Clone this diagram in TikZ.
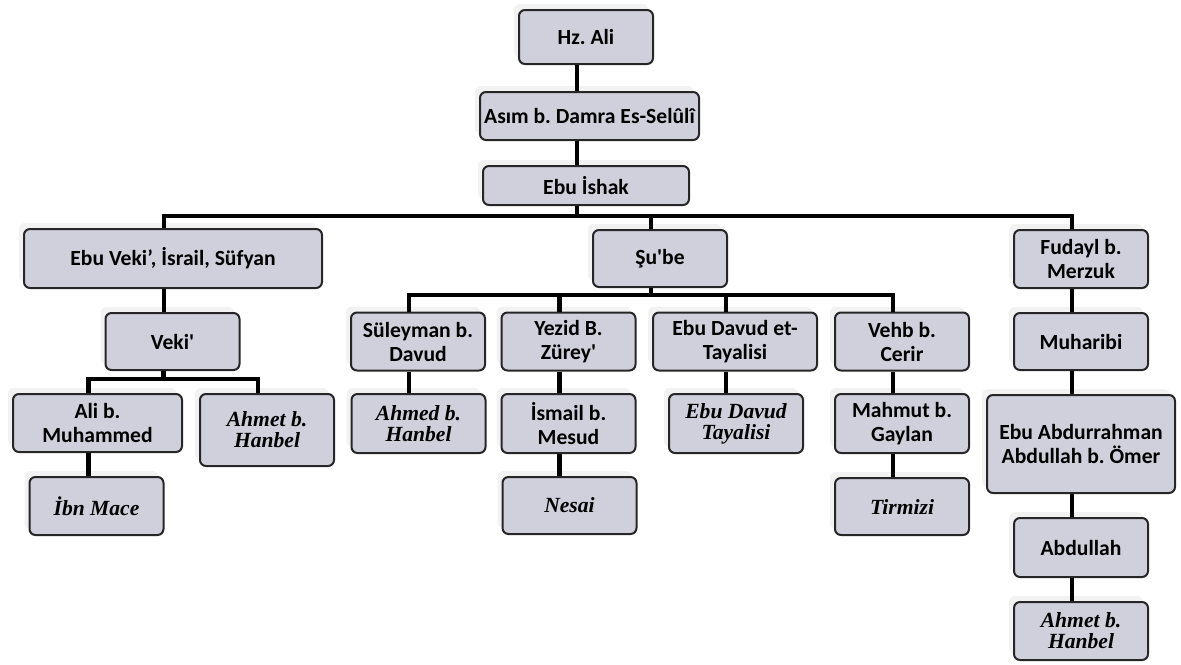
\documentclass[tikz,border=0pt]{standalone}
\usepackage{fontspec}
\setmainfont[Ligatures=TeXOff]{Carlito}
\newfontfamily\timesfont{Liberation Serif}
\usepackage{tikz}
\usetikzlibrary{shadows}
\usepackage{xcolor}
\definecolor{boxfill}{RGB}{208,207,220}
\frenchspacing
\newcommand\namefont{\fontsize{10.8}{12}\selectfont\bfseries}
\newcommand\leaffont{\fontsize{10.8}{10.5}\selectfont\timesfont\bfseries\itshape}
\tikzset{
    box/.style={draw=black!85, line width=1pt, rounded corners=3pt, fill=boxfill,
        align=center, inner sep=0pt, minimum width=67pt, minimum height=29pt,
        font=\namefont,
        copy shadow={shadow xshift=-2.5pt, shadow yshift=3pt, draw=none, fill=black!5}},
    leaf/.style={box, font=\leaffont},
    link/.style={line width=2.4pt, transform canvas={xshift=-4.5pt}}
}

\begin{document}
\begin{tikzpicture}[x=0.5pt, y=-0.5pt]
            \useasboundingbox (0,0) rectangle (1181,664);
            % top of the chain
            \node[box, minimum height=27pt] (hzali) at (586,37) {Hz. Ali};
            \node[box, minimum width=109.5pt, minimum height=24pt] (asim) at (589.5,116) {Asım b. Damra Es-Selûlî};
            \node[box, minimum width=103pt, minimum height=19.5pt] (ishak) at (586,185.5) {Ebu İshak};
            % second row
            \node[box, minimum width=149pt, minimum height=29.5pt] (ebuveki) at (173,258.5) {Ebu Veki’, İsrail, Süfyan};
            \node[box, minimum height=28.5pt] (sube) at (660,258.5) {Şu'be};
            \node[box] (fudayl) at (1081,259) {Fudayl b.\\Merzuk};
            % third row
            \node[box, minimum height=28.5pt] (veki) at (172.5,341.5) {Veki'};
            \node[box] (suleyman) at (418,341.5) {Süleyman b.\\Davud};
            \node[box] (yezid) at (568.5,341.5) {Yezid B.\\Zürey'};
            \node[box, minimum width=82pt] (ebudavud) at (735,341.5) {Ebu Davud et-\\Tayalisi};
            \node[box] (vehb) at (902,341.5) {Vehb b.\\Cerir};
            \node[box, minimum height=28.5pt] (muharibi) at (1081,341.5) {Muharibi};
            % fourth row
            \node[box, minimum width=84.5pt] (alimuh) at (97.5,423) {Ali b.\\Muhammed};
            \node[leaf, minimum height=36pt] (ahmet) at (267,430) {Ahmet b.\\Hanbel};
            \node[leaf, minimum height=29.5pt] (ahmed) at (418.5,423.5) {Ahmed b.\\Hanbel};
            \node[box, minimum height=29.5pt] (ismail) at (568.5,423.5) {İsmail b.\\Mesud};
            \node[leaf, minimum height=29.5pt] (tayalisi) at (736,423.5) {Ebu Davud\\Tayalisi};
            \node[box, minimum height=29.5pt] (mahmut) at (902,423.5) {Mahmut b.\\Gaylan};
            \node[box, minimum width=94pt, minimum height=49pt] (ebuabd) at (1081,444) {Ebu Abdurrahman\\Abdullah b. Ömer};
            % last rows
            \node[leaf] (ibnmace) at (96.5,506) {İbn Mace};
            \node[leaf, minimum height=28.5pt] (nesai) at (569.5,505.5) {Nesai};
            \node[leaf, minimum height=28.5pt] (tirmizi) at (902,506.5) {Tirmizi};
            \node[box, minimum height=29.5pt] (abdullah) at (1081,547.5) {Abdullah};
            \node[leaf] (ahmetb) at (1081,631) {Ahmet b.\\Hanbel};

            % connectors
            \draw[link] (hzali.south) -- (hzali.south |- asim.north);
            \draw[link] (ishak.north) -- (ishak.north |- asim.south);
            \foreach \c in {ebuveki, sube, fudayl}
                \draw[link] (ishak.south) -- ++(0,10) -| (\c.north);
            \foreach \c in {suleyman, yezid, ebudavud, vehb}
                \draw[link] (sube.south) -- ++(0,7) -| (\c.north);
            \foreach \c in {alimuh, ahmet}
                \draw[link] (veki.south) -- ++(0,8) -| (\c.north);
            \foreach \a/\b in {ebuveki/veki, alimuh/ibnmace, suleyman/ahmed, yezid/ismail,
                    ismail/nesai, ebudavud/tayalisi, vehb/mahmut, mahmut/tirmizi,
                    fudayl/muharibi, muharibi/ebuabd, ebuabd/abdullah, abdullah/ahmetb}
                \draw[link] (\a.south) -- (\a.south |- \b.north);
        \end{tikzpicture}
\end{document}
